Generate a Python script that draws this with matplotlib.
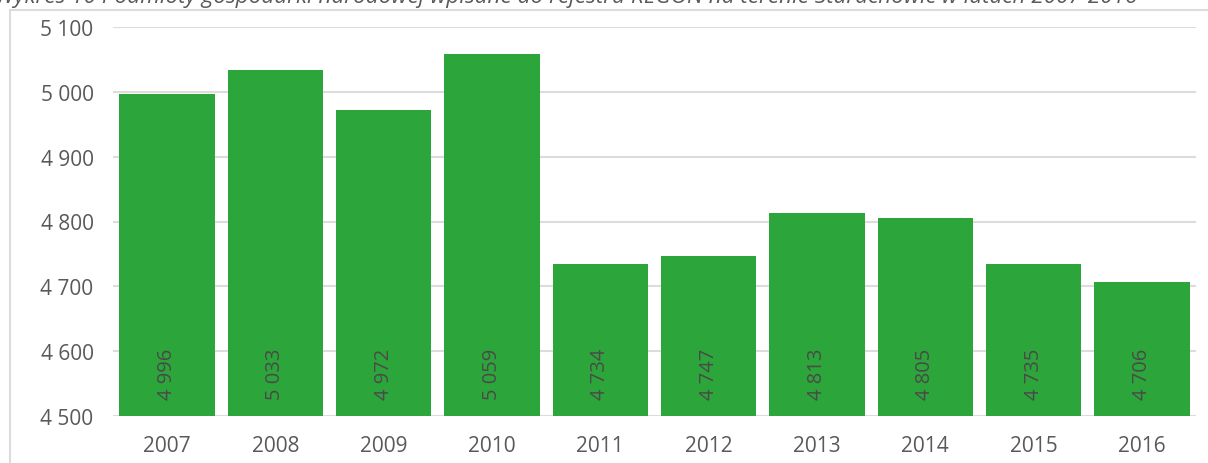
import matplotlib.pyplot as plt
from matplotlib.patches import Rectangle

# --- DATA ---
years = ['2007', '2008', '2009', '2010', '2011', '2012', '2013', '2014', '2015', '2016']
values = [4996, 5033, 4972, 5059, 4734, 4747, 4813, 4805, 4735, 4706]
yticks = [4500, 4600, 4700, 4800, 4900, 5000, 5100]
title = 'Wykres 10 Podmioty gospodarki narodowej wpisane do rejestru REGON na terenie Starachowic w latach 2007-2016'

GREEN = '#2ca53a'
GREY_TXT = '#595959'
GRID = '#dcdcdc'

W, H = 1208, 464
plt.rcParams['font.family'] = ['Open Sans', 'DejaVu Sans']
fig = plt.figure(figsize=(W / 100, H / 100), dpi=100)

# frame of the chart area (cut off at right / bottom)
fig.patches.append(Rectangle((10 / W, -0.1), 1.2, (H - 11) / H + 0.1,
                             transform=fig.transFigure, fill=False,
                             edgecolor=GRID, linewidth=1.5))

# title, half cut off at top
fig.text(-0.004, 1 + 3 / H, title, ha='left', va='center', style='italic',
         fontsize=16.2, color=GREY_TXT)

ax = fig.add_axes([113 / W, 47 / H, (1196 - 113) / W, (417 - 28) / H])
x = range(len(years))
ax.bar(x, [v - 4500 for v in values], bottom=4500, width=0.88, color=GREEN, zorder=2)

ax.set_ylim(4500, 5100)
ax.set_xlim(-0.5, len(years) - 0.5)
ax.set_yticks(yticks)
ax.set_yticklabels([f'{t:,}'.replace(',', ' ') for t in yticks])
ax.set_xticks(list(x))
ax.set_xticklabels(years)
ax.tick_params(axis='both', length=0, labelsize=15, colors=GREY_TXT)
ax.tick_params(axis='y', pad=14)
ax.tick_params(axis='x', pad=14)
ax.yaxis.grid(True, color=GRID, linewidth=1.5, zorder=0)
for s in ax.spines.values():
    s.set_visible(False)

# value labels, rotated, near the bottom of the bars
for i, v in enumerate(values):
    ax.text(i, 4566, f'{v:,}'.replace(',', ' '), rotation=90, ha='center', va='center',
            fontsize=14.5, color='#4a4a4a', zorder=3)

fig.savefig('out.png', dpi=100)
